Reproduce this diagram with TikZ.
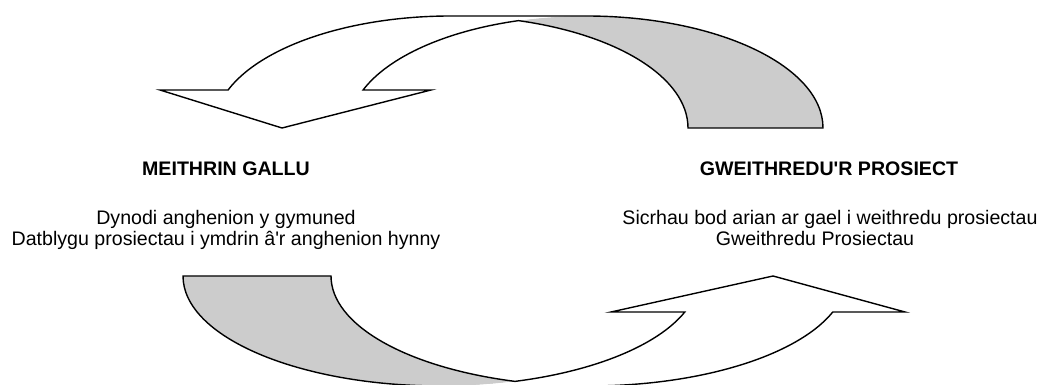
\documentclass[tikz,border=0pt]{standalone}
\usepackage{fontspec}
\setmainfont{Liberation Sans}[Ligatures=TeXOff]
\usepackage{tikz}
\usetikzlibrary{positioning}
\definecolor{backgray}{gray}{0.8}
\tikzset{
    band/.style={line width=1.4pt, line join=miter},
    backface/.style={fill=backgray},
    frontface/.style={fill=white},
    toparc/.style={x radius=237, y radius=112},
    botarc/.style={x radius=258, y radius=110},
    heading/.style={font=\fontsize{19.6}{22}\selectfont\bfseries, anchor=base, inner sep=0pt},
    bodytext/.style={font=\fontsize{19.6}{22}\selectfont, anchor=base, inner sep=0pt},
}

\begin{document}
\begin{tikzpicture}[x=1pt,y=1pt]
\useasboundingbox (0,0) rectangle (1044,385);

\coordinate (qtop) at (451,369);
\coordinate (ptop) at (586,369);
\coordinate (qbase) at (228.06,295);
\coordinate (pbase) at (363.06,295);
\coordinate (qend) at (688,257);
\coordinate (pend) at (823,257);
\coordinate (downtip) at (282,257);
\coordinate (downleft) at (160,295);
\coordinate (downright) at (431,295);

\fill[backface] (pend) arc[toparc, start angle=0, end angle=106.55] arc[toparc, start angle=73.45, end angle=0] -- cycle;
\fill[frontface] (downtip) -- (downleft) -- (qbase) arc[toparc, start angle=160.17, end angle=90] -- (ptop) arc[toparc, start angle=90, end angle=160.17] -- (downright) -- cycle;
\draw[band] (qbase) arc[toparc, start angle=160.17, end angle=90] -- (ptop) arc[toparc, start angle=90, end angle=0] -- (qend) arc[toparc, start angle=0, end angle=73.45] arc[toparc, start angle=106.55, end angle=160.17] -- (downright) -- (downtip) -- (downleft) -- cycle;

\coordinate (tailout) at (183,109);
\coordinate (tailin) at (331,109);
\coordinate (rightbot) at (589,-1);
\coordinate (inbase) at (684.8,73);
\coordinate (outbase) at (832.8,73);
\coordinate (uptip) at (773,109);
\coordinate (upleft) at (611,73);
\coordinate (upright) at (905,73);

\fill[backface] (tailout) -- (tailin) arc[botarc, start angle=180, end angle=253.33] arc[botarc, start angle=286.67, end angle=180] -- cycle;
\fill[frontface] (uptip) -- (upleft) -- (inbase) arc[botarc, start angle=-19.1, end angle=-90] -- (rightbot) arc[botarc, start angle=-90, end angle=-19.1] -- (upright) -- cycle;
\draw[band] (tailout) arc[botarc, start angle=180, end angle=270] -- (rightbot) arc[botarc, start angle=270, end angle=340.9] -- (upright) -- (uptip) -- (upleft) -- (inbase) arc[botarc, start angle=340.9, end angle=286.67] arc[botarc, start angle=253.33, end angle=180] -- cycle;

\node[heading] (gallu) at (226,209) {MEITHRIN GALLU};
\node[heading] (prosiect) at (829,209) {GWEITHREDU'R PROSIECT};
\node[bodytext] (anghenion) at (226,160) {Dynodi anghenion y gymuned};
\node[bodytext] (datblygu) at (226,139) {Datblygu prosiectau i ymdrin â'r anghenion hynny};
\node[bodytext] (arian) at (830,160) {Sicrhau bod arian ar gael i weithredu prosiectau};
\node[bodytext] (gweithredu) at (815,139) {Gweithredu Prosiectau};

\end{tikzpicture}
\end{document}
